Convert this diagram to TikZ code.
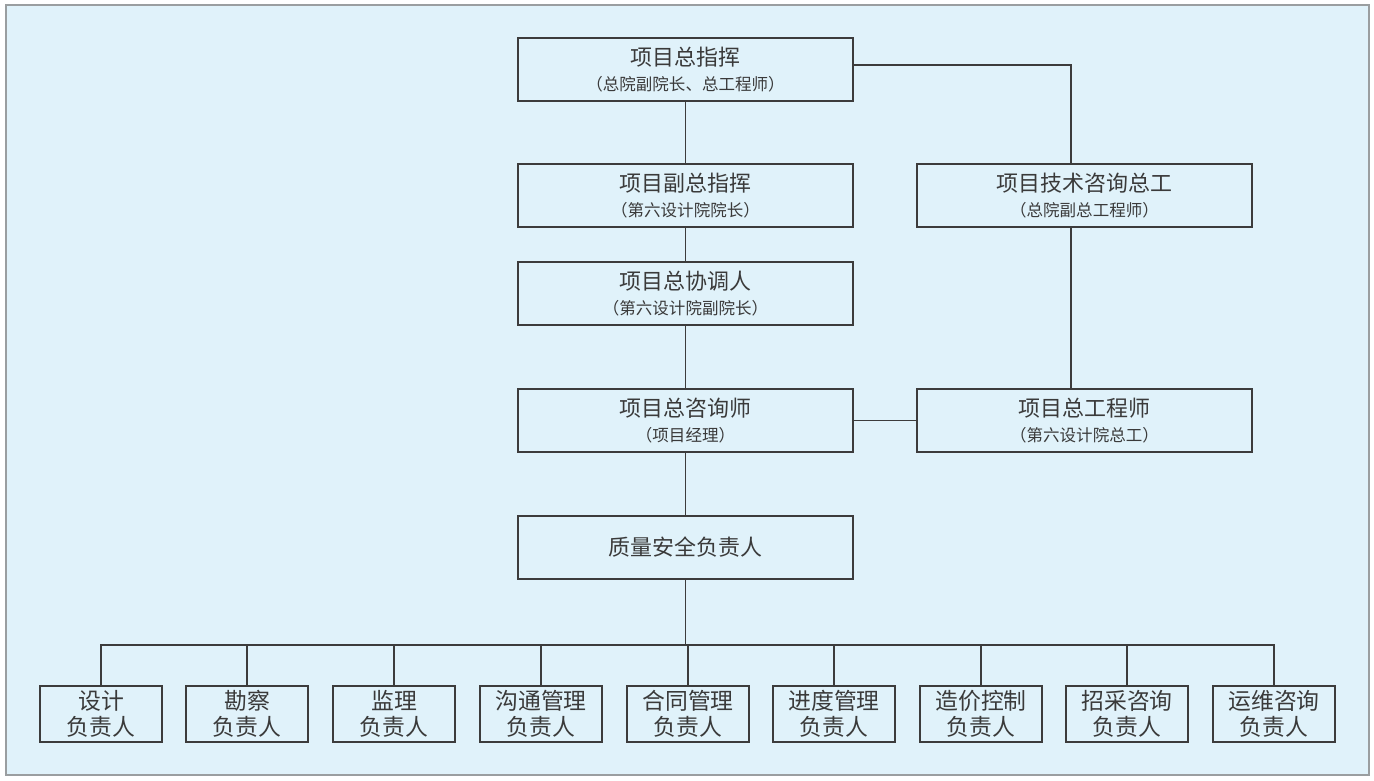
\documentclass[tikz,border=0pt]{standalone}
\usepackage{fontspec}
\setmainfont{Noto Sans CJK SC}
\usepackage{xcolor}
\usepackage{tikz}
\usetikzlibrary{positioning}
\definecolor{fondo}{HTML}{E0F2FA}
\definecolor{borde}{HTML}{9A9EA0}
\definecolor{linea}{HTML}{3C3C3C}
\definecolor{texto}{HTML}{3A3A3A}
\newcommand{\pie}[1]{{\fontsize{9.4}{11}\selectfont #1}}

\begin{document}
\begin{tikzpicture}[
  x=0.02cm, y=-0.02cm,
  font=\fontsize{12.5}{15}\selectfont\color{texto},
  caja/.style={draw=linea, line width=0.8pt, align=center, inner sep=0pt,
    minimum width=6.7cm, minimum height=1.26cm},
  cajita/.style={draw=linea, line width=0.8pt, align=center, inner sep=0pt,
    minimum width=2.44cm, minimum height=1.12cm, font=\fontsize{13}{14.5}\selectfont\color{texto}},
  enlace/.style={draw=linea, line width=0.8pt}
]
  \useasboundingbox (0,0) rectangle (1374,781);
  \fill[fondo, draw=borde, line width=1pt] (6,5) rectangle (1369,775);

  \node[caja] (mando) at (685.5,69.5) {项目总指挥\\[-1pt]\pie{（总院副院长、总工程师）}};
  \node[caja] (vice) at (685.5,195.5) {项目副总指挥\\[-1pt]\pie{（第六设计院院长）}};
  \node[caja] (coord) at (685.5,293.5) {项目总协调人\\[-1pt]\pie{（第六设计院副院长）}};
  \node[caja] (consul) at (685.5,420.5) {项目总咨询师\\[-1pt]\pie{（项目经理）}};
  \node[caja] (calidad) at (685.5,547.5) {质量安全负责人};
  \node[caja] (tecnico) at (1084.5,195.5) {项目技术咨询总工\\[-1pt]\pie{（总院副总工程师）}};
  \node[caja] (ingeniero) at (1084.5,420.5) {项目总工程师\\[-1pt]\pie{（第六设计院总工）}};

  \draw[enlace] (mando) -- (vice);
  \draw[enlace] (vice) -- (coord);
  \draw[enlace] (coord) -- (consul);
  \draw[enlace] (consul) -- (calidad);
  \draw[enlace] (consul) -- (ingeniero);
  \draw[enlace] (mando.east |- 0,65) -| (tecnico.north -| 1071,0);
  \draw[enlace] (tecnico.south -| 1071,0) -- (ingeniero.north -| 1071,0);

  \coordinate (bus) at (685.5,645);
  \draw[enlace] (calidad) -- (bus);
  \foreach \n/\x/\t in {r1/101/设计, r2/247/勘察, r3/394/监理, r4/541/沟通管理,
      r5/688/合同管理, r6/834/进度管理, r7/981/造价控制, r8/1127/招采咨询, r9/1274/运维咨询}{
    \node[cajita] (\n) at (\x,714) {\t\\负责人};
  }
  \draw[enlace] (r1.north) |- (bus) -| (r9.north);
  \foreach \n in {r2,r3,r4,r5,r6,r7,r8}{
    \draw[enlace] (\n.north) -- (\n.north |- bus);
  }
\end{tikzpicture}
\end{document}
